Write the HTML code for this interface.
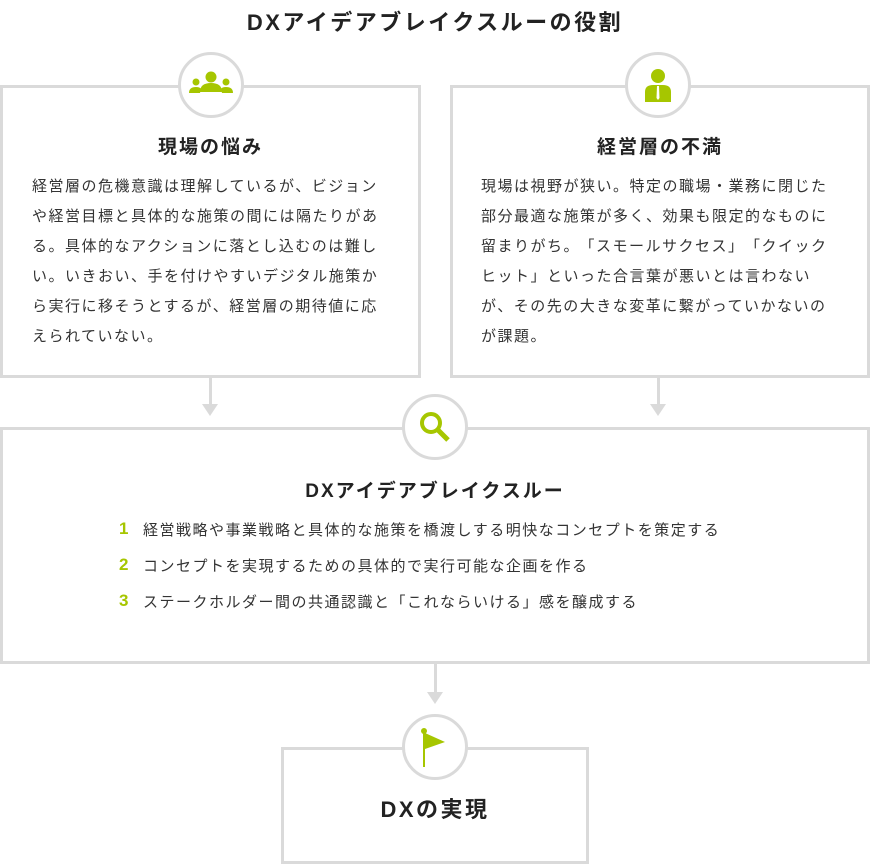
<!DOCTYPE html>
<html><head><meta charset="utf-8"><style>
*{margin:0;padding:0;box-sizing:border-box}
body{width:870px;height:864px;background:#fff;position:relative;overflow:hidden;font-family:"Liberation Sans","Noto Sans CJK JP",sans-serif;color:#333}
.a{position:absolute}
.box{position:absolute;border:3px solid #dadada;background:#fff}
.circ{position:absolute;width:66px;height:66px;border:3px solid #dadada;border-radius:50%;background:#fff;display:flex;align-items:center;justify-content:center}
.h{position:absolute;font-weight:bold;font-size:19px;letter-spacing:2px;text-align:center;color:#222}
.p{position:absolute;font-size:15px;letter-spacing:1.5px;line-height:30px;color:#333;white-space:nowrap}
.li{position:absolute;font-size:15px;letter-spacing:1.5px;color:#333;white-space:nowrap}
.li b{position:absolute;left:-24px;color:#a6c600;font-size:17px;letter-spacing:0}
.arr{position:absolute;width:3px;background:#dadada}
.tri{position:absolute;width:0;height:0;border-left:8px solid transparent;border-right:8px solid transparent;border-top:12px solid #dadada}
</style></head><body>
<div class="a" style="left:0;width:870px;top:5px;text-align:center;font-size:22px;font-weight:bold;letter-spacing:2.5px;color:#222">DXアイデアブレイクスルーの役割</div>

<div class="box" style="left:0;top:85px;width:421px;height:293px"></div>
<div class="box" style="left:450px;top:85px;width:420px;height:293px"></div>
<div class="box" style="left:0;top:427px;width:870px;height:237px"></div>
<div class="box" style="left:281px;top:747px;width:308px;height:117px"></div>

<div class="arr" style="left:209px;top:378px;height:28px"></div><div class="tri" style="left:202px;top:404px"></div>
<div class="arr" style="left:657px;top:378px;height:28px"></div><div class="tri" style="left:650px;top:404px"></div>
<div class="arr" style="left:434px;top:664px;height:30px"></div><div class="tri" style="left:427px;top:692px"></div>

<div class="circ" style="left:178px;top:52px"><svg width="46" height="30" viewBox="0 0 46 30" fill="#a6c600"><circle cx="23" cy="7" r="5.5"/><path d="M12 22 Q12 13 23 13 Q34 13 34 22 Z"/><circle cx="8" cy="12" r="3.5"/><circle cx="38" cy="12" r="3.5"/><path d="M1 23 Q1 17 8 17 Q12 17 13 19 L12 23Z"/><path d="M45 23 Q45 17 38 17 Q34 17 33 19 L34 23Z"/></svg></div>
<div class="circ" style="left:625px;top:52px"><svg width="30" height="34" viewBox="0 0 30 34" fill="#a6c600"><circle cx="15" cy="8" r="7"/><path d="M2 34 L2 24 Q2 17 10 17 L20 17 Q28 17 28 24 L28 34Z"/><path d="M14 18 L16 18 L16.5 30 L15 32 L13.5 30Z" fill="#fff"/></svg></div>
<div class="circ" style="left:402px;top:394px"><svg width="34" height="34" viewBox="0 0 34 34"><circle cx="13" cy="13" r="9" fill="none" stroke="#a6c600" stroke-width="4"/><path d="M20 20 L30 30" stroke="#a6c600" stroke-width="5"/></svg></div>
<div class="circ" style="left:402px;top:714px"><svg width="30" height="40" viewBox="0 0 30 40"><circle cx="4" cy="4" r="3" fill="#a6c600"/><rect x="3" y="4" width="2" height="36" fill="#a6c600"/><path d="M5 6 L25 15 L5 22Z" fill="#a6c600"/></svg></div>

<div class="h" style="left:0;width:421px;top:132px">現場の悩み</div>
<div class="h" style="left:450px;width:420px;top:132px">経営層の不満</div>
<div class="p" style="left:32px;top:172px">経営層の危機意識は理解しているが、ビジョン<br>や経営目標と具体的な施策の間には隔たりがあ<br>る。具体的なアクションに落とし込むのは難し<br>い。いきおい、手を付けやすいデジタル施策か<br>ら実行に移そうとするが、経営層の期待値に応<br>えられていない。</div>
<div class="p" style="left:481px;top:172px">現場は視野が狭い。特定の職場・業務に閉じた<br>部分最適な施策が多く、効果も限定的なものに<br>留まりがち。<span style="margin-left:7px">「スモールサクセス」</span><span style="margin-left:8px">「クイック</span><br>ヒット」といった合言葉が悪いとは言わない<br>が、その先の大きな変革に繋がっていかないの<br>が課題。</div>

<div class="h" style="left:0;width:870px;top:476px">DXアイデアブレイクスルー</div>
<div class="li" style="left:143px;top:519px"><b>1</b>経営戦略や事業戦略と具体的な施策を橋渡しする明快なコンセプトを策定する</div>
<div class="li" style="left:143px;top:555px"><b>2</b>コンセプトを実現するための具体的で実行可能な企画を作る</div>
<div class="li" style="left:143px;top:591px"><b>3</b>ステークホルダー間の共通認識と「これならいける」感を醸成する</div>

<div class="a" style="left:281px;width:308px;top:792px;text-align:center;font-size:22px;font-weight:bold;letter-spacing:2.5px;color:#222">DXの実現</div>
</body></html>
